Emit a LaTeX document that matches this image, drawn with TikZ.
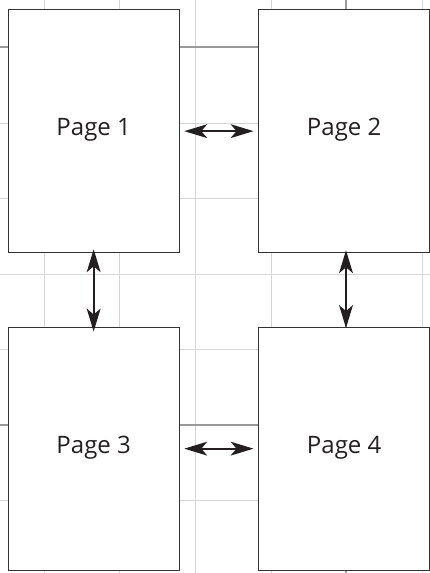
\documentclass[tikz,border=0pt]{standalone}
\usepackage{fontspec}
\setmainfont{Open Sans}
\definecolor{ink}{HTML}{231F20}
\definecolor{boxline}{HTML}{333333}
\definecolor{gridlight}{HTML}{D6D6D6}
\definecolor{griddark}{HTML}{9A9A9A}
\tikzset{
  pagebox/.style={draw=boxline, line width=1.3pt, fill=white, minimum width=171pt, minimum height=243pt, inner sep=0pt, anchor=north west},
  pagelabel/.style={font=\fontsize{24}{24}\selectfont, text=ink, anchor=base, inner sep=0pt},
  lightgrid/.style={draw=gridlight, line width=1pt},
  darkgrid/.style={draw=griddark, line width=1.6pt},
  shaft/.style={draw=ink, line width=2.2pt, shorten <=12pt, shorten >=12pt},
  headfill/.style={fill=ink}
}
\begin{document}
\begin{tikzpicture}[x=1pt,y=-1pt]
\useasboundingbox (0,0) rectangle (430,573);
% grid
\foreach \gx in {44,119,195,271,422} \draw[lightgrid] (\gx,0) -- (\gx,573);
\foreach \gy in {123,198,274,349,500} \draw[lightgrid] (0,\gy) -- (430,\gy);
\draw[darkgrid] (346,0) -- (346,573);
\draw[darkgrid] (0,47) -- (430,47);
\draw[darkgrid] (0,425) -- (430,425);
% pages
\node[pagebox] (p1) at (7.5,9) {};
\node[pagebox] (p2) at (258,9) {};
\node[pagebox] (p3) at (7.5,326.5) {};
\node[pagebox] (p4) at (258,326.5) {};
\node[pagelabel] (t1) at ([yshift=-4.5pt]p1.center) {Page 1};
\node[pagelabel] (t2) at ([yshift=-4.5pt]p2.center) {Page 2};
\node[pagelabel] (t3) at ([yshift=-4.5pt]p3.center) {Page 3};
\node[pagelabel] (t4) at ([yshift=-4.5pt]p4.center) {Page 4};
% connector end points
\coordinate (a12) at ([xshift=4.5pt]p1.east);
\coordinate (b12) at ([xshift=-4.5pt]p2.west);
\coordinate (a34) at ([xshift=4.5pt]p3.east);
\coordinate (b34) at ([xshift=-4.5pt]p4.west);
\coordinate (a13) at ([yshift=4pt]p1.south);
\coordinate (b13) at ([yshift=-5pt]p3.north);
\coordinate (a24) at ([yshift=3pt]p2.south -| 346,0);
\coordinate (b24) at ([yshift=-1.5pt]p4.north -| 346,0);
% shafts
\draw[shaft] (a12) -- (b12);
\draw[shaft] (a34) -- (b34);
\draw[shaft] (a13) -- (b13);
\draw[shaft] (a24) -- (b24);
% heads (horizontal)
\foreach \t in {a12,a34}
  \fill[headfill] (\t) -- ++(23,7) -- ++(-6,-7) -- ++(6,-7) -- cycle;
\foreach \t in {b12,b34}
  \fill[headfill] (\t) -- ++(-23,7) -- ++(6,-7) -- ++(-6,-7) -- cycle;
% heads (vertical)
\foreach \t in {a13,a24}
  \fill[headfill] (\t) -- ++(7,23) -- ++(-7,-6) -- ++(-7,6) -- cycle;
\foreach \t in {b13,b24}
  \fill[headfill] (\t) -- ++(7,-23) -- ++(-7,6) -- ++(-7,-6) -- cycle;
\end{tikzpicture}
\end{document}
